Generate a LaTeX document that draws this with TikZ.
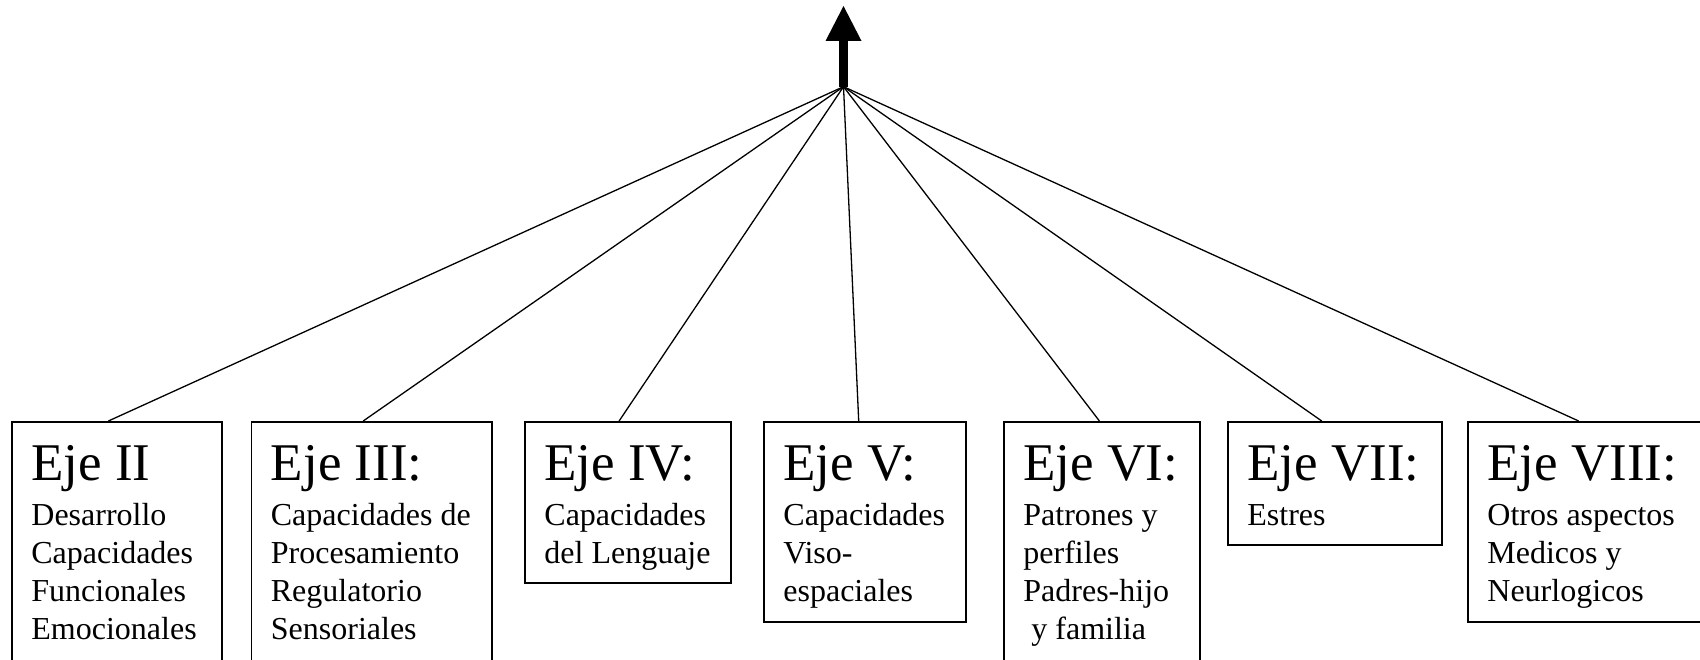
\documentclass[tikz,border=0pt]{standalone}
\usepackage{fontspec}
\setmainfont{Liberation Serif}
\usetikzlibrary{arrows.meta,calc}
\tikzset{
  ejebox/.style={draw, line width=0.85pt, rectangle, inner sep=0pt, anchor=north west},
  ejetitle/.style={anchor=base west, inner sep=0pt, font=\fontsize{26.5pt}{30pt}\selectfont},
  ejebody/.style={anchor=base west, inner sep=0pt, font=\fontsize{16pt}{19.15pt}\selectfont},
  spoke/.style={line width=0.65pt},
}
\newcommand{\ejelines}[1]{\begin{tabular}[t]{@{}l@{}}#1\end{tabular}}
\begin{document}
\begin{tikzpicture}[x=0.5pt,y=0.5pt]
\useasboundingbox (0,0) rectangle (1700,659);
% apex and arrow
\coordinate (apex) at (843.5,572.3);
\coordinate (tip) at (843.5,653);
\draw[line width=4.5pt, -{Triangle[width=18pt,length=17.5pt,line width=0pt]}] (apex) -- (tip);
% boxes
\node[ejebox, minimum width=105pt, minimum height=121.5pt] (b2) at (11,238) {};
\node[ejebox, minimum width=120.25pt, minimum height=121.5pt] (b3) at (250.5,238) {};
\node[ejebox, minimum width=103pt, minimum height=80.5pt] (b4) at (524,238) {};
\node[ejebox, minimum width=101pt, minimum height=100pt] (b5) at (763,238) {};
\node[ejebox, minimum width=98pt, minimum height=121.5pt] (b6) at (1003,238) {};
\node[ejebox, minimum width=107pt, minimum height=61.5pt] (b7) at (1227,238) {};
\node[ejebox, minimum width=125pt, minimum height=100pt] (b8) at (1467,238) {};
% texts
\node[ejetitle] (t2) at (31,179) {Eje II};
\node[ejebody] (d2) at (31,134) {\ejelines{Desarrollo\\Capacidades\\Funcionales\\Emocionales}};
\node[ejetitle] (t3) at (270.5,179) {Eje III:};
\node[ejebody] (d3) at (270.5,134) {\ejelines{Capacidades de\\Procesamiento\\Regulatorio\\Sensoriales}};
\node[ejetitle] (t4) at (544,179) {Eje IV:};
\node[ejebody] (d4) at (544,134) {\ejelines{Capacidades\\del Lenguaje}};
\node[ejetitle] (t5) at (783,179) {Eje V:};
\node[ejebody] (d5) at (783,134) {\ejelines{Capacidades\\Viso-\\espaciales}};
\node[ejetitle] (t6) at (1023,179) {Eje VI:};
\node[ejebody] (d6) at (1023,134) {\ejelines{Patrones y\\perfiles\\Padres-hijo\\\hspace{4pt}y familia}};
\node[ejetitle] (t7) at (1247,179) {Eje VII:};
\node[ejebody] (d7) at (1247,134) {\ejelines{Estres}};
\node[ejetitle] (t8) at (1487,179) {Eje VIII:};
\node[ejebody] (d8) at (1487,134) {\ejelines{Otros aspectos\\Medicos y\\Neurlogicos}};
% spokes
\draw[spoke] (apex) -- ($(b2.north west)+(97.4,0)$);
\draw[spoke] (apex) -- ($(b3.north west)+(112.7,0)$);
\draw[spoke] (apex) -- ($(b4.north west)+(95.1,0)$);
\draw[spoke] (apex) -- ($(b5.north west)+(95.7,0)$);
\draw[spoke] (apex) -- ($(b6.north west)+(96.4,0)$);
\draw[spoke] (apex) -- ($(b7.north west)+(94.7,0)$);
\draw[spoke] (apex) -- ($(b8.north west)+(111.6,0)$);
\end{tikzpicture}
\end{document}
